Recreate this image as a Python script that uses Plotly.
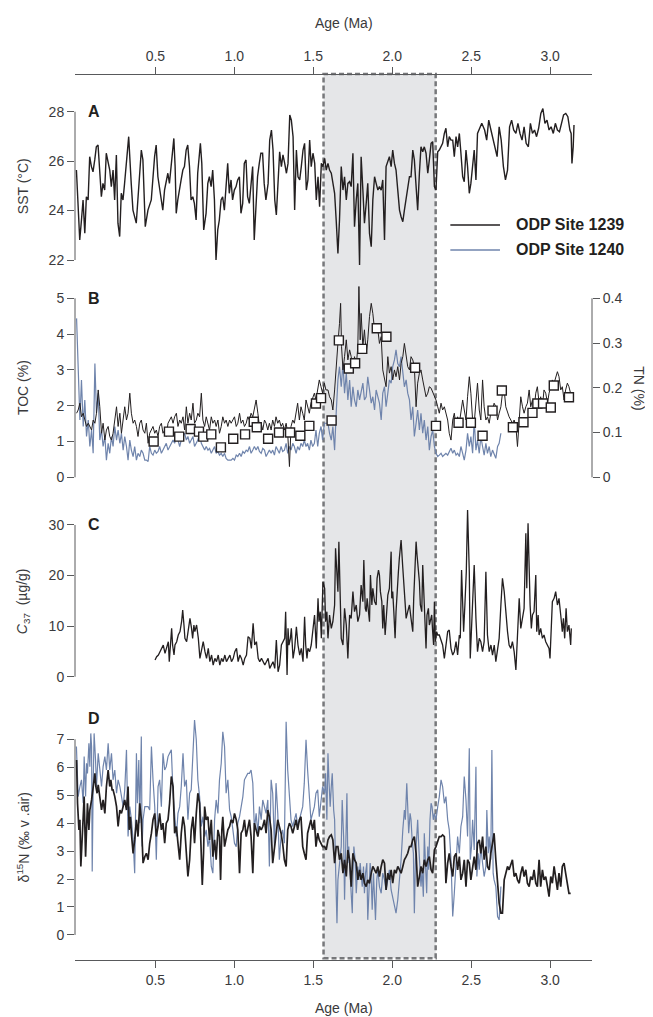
import plotly.graph_objects as go

# ---- shared age axis (Ma) ----
age_ticks = [0.5, 1.0, 1.5, 2.0, 2.5, 3.0]
shade_start, shade_end = 1.565, 2.275

# ---- A: SST (ODP 1239) ----
sst_age = [0.000, 0.021, 0.032, 0.042, 0.053, 0.063, 0.074, 0.084, 0.095, 0.105, 0.116, 0.126, 0.137, 0.147, 0.158,
           0.168, 0.179, 0.189, 0.200, 0.211, 0.221, 0.232, 0.242, 0.253, 0.263, 0.274, 0.284, 0.295, 0.305, 0.316,
           0.331, 0.347, 0.358, 0.379, 0.389, 0.400, 0.411, 0.421, 0.436, 0.453, 0.474, 0.495, 0.505, 0.516, 0.526,
           0.537, 0.547, 0.558, 0.568, 0.579, 0.589, 0.600, 0.617, 0.625, 0.632, 0.642, 0.653, 0.663, 0.674, 0.684,
           0.695, 0.705, 0.716, 0.726, 0.737, 0.747, 0.758, 0.768, 0.785, 0.794, 0.806, 0.821, 0.832, 0.842, 0.853,
           0.863, 0.874, 0.884, 0.895, 0.905, 0.916, 0.926, 0.937, 0.947, 0.958, 0.968, 0.979, 0.989, 1.000, 1.011,
           1.021, 1.032, 1.042, 1.053, 1.063, 1.074, 1.084, 1.095, 1.105, 1.116, 1.126, 1.137, 1.147, 1.158, 1.168,
           1.179, 1.189, 1.200, 1.214, 1.224, 1.235, 1.245, 1.256, 1.266, 1.277, 1.287, 1.298, 1.308, 1.319, 1.330,
           1.340, 1.351, 1.361, 1.372, 1.382, 1.393, 1.403, 1.414, 1.424, 1.435, 1.445, 1.456, 1.466, 1.477, 1.487,
           1.498, 1.509, 1.519, 1.530, 1.540, 1.551, 1.561, 1.572, 1.582, 1.593, 1.603, 1.614, 1.624, 1.635, 1.645,
           1.656, 1.666, 1.677, 1.688, 1.698, 1.709, 1.719, 1.730, 1.740, 1.751, 1.761, 1.772, 1.782, 1.793, 1.803,
           1.814, 1.824, 1.835, 1.845, 1.856, 1.867, 1.877, 1.888, 1.898, 1.909, 1.919, 1.930, 1.940, 1.951, 1.961,
           1.972, 1.982, 1.993, 2.003, 2.014, 2.024, 2.035, 2.046, 2.056, 2.067, 2.077, 2.088, 2.098, 2.109, 2.119,
           2.130, 2.140, 2.151, 2.161, 2.172, 2.182, 2.193, 2.203, 2.214, 2.225, 2.235, 2.246, 2.256, 2.267, 2.277,
           2.288, 2.298, 2.309, 2.319, 2.330, 2.340, 2.351, 2.361, 2.372, 2.383, 2.393, 2.404, 2.414, 2.425, 2.435,
           2.446, 2.456, 2.467, 2.477, 2.488, 2.498, 2.509, 2.519, 2.530, 2.540, 2.567, 2.585, 2.598, 2.611, 2.625,
           2.651, 2.664, 2.677, 2.690, 2.704, 2.717, 2.730, 2.743, 2.756, 2.769, 2.783, 2.796, 2.809, 2.822, 2.835,
           2.848, 2.862, 2.875, 2.888, 2.901, 2.914, 2.927, 2.941, 2.954, 2.967, 2.980, 2.993, 3.006, 3.020, 3.033,
           3.046, 3.059, 3.072, 3.085, 3.099, 3.112, 3.125, 3.133, 3.138, 3.146, 3.151]
sst = [25.64, 22.81, 23.62, 24.43, 23.08, 24.56, 24.43, 26.18, 25.78, 25.57, 26.05, 26.58, 26.65, 25.37, 24.56,
       25.10, 24.83, 26.32, 25.91, 25.64, 24.97, 25.64, 24.43, 26.25, 23.49, 22.95, 24.70, 24.43, 25.10, 25.78,
       26.99, 25.10, 24.02, 23.49, 24.43, 25.37, 26.45, 26.05, 23.35, 24.02, 24.43, 26.18, 26.65, 25.37, 24.97,
       24.43, 24.02, 24.83, 25.24, 25.51, 25.10, 25.78, 26.92, 25.78, 23.89, 24.43, 24.97, 25.24, 25.64, 25.78,
       26.45, 26.65, 25.78, 24.43, 24.56, 24.29, 23.62, 25.51, 26.72, 25.91, 23.22, 23.89, 25.10, 25.37, 24.97,
       25.64, 24.43, 22.00, 23.22, 23.62, 24.43, 24.56, 24.02, 25.10, 25.91, 24.70, 25.24, 24.43, 24.83, 24.97,
       25.24, 25.37, 23.89, 24.29, 25.91, 26.05, 24.56, 24.29, 25.10, 25.78, 22.81, 24.02, 25.37, 25.91, 26.32,
       26.32, 25.10, 24.43, 25.10, 26.85, 27.26, 26.45, 24.43, 23.82, 25.24, 26.38, 25.78, 26.25, 25.91, 25.51,
       25.91, 27.87, 27.66, 26.99, 24.02, 26.45, 25.37, 25.24, 25.78, 26.45, 26.72, 24.83, 25.24, 26.85, 25.78,
       26.32, 25.91, 24.43, 25.37, 24.16, 25.91, 25.78, 26.11, 25.64, 25.91, 25.64, 25.51, 25.10, 24.70, 23.62,
       22.27, 23.62, 25.78, 24.83, 25.37, 24.43, 25.10, 25.17, 24.97, 26.32, 23.35, 24.43, 25.10, 21.80, 26.18,
       24.83, 23.49, 24.29, 25.10, 23.08, 22.54, 24.43, 25.37, 25.10, 24.83, 24.97, 24.83, 25.24, 22.81, 25.78,
       26.05, 26.18, 25.78, 26.45, 25.91, 25.64, 24.83, 24.02, 23.75, 23.55, 24.02, 24.43, 24.97, 25.37, 25.37,
       26.45, 26.05, 24.70, 24.02, 25.51, 26.58, 26.38, 26.58, 26.32, 25.51, 26.05, 26.72, 26.79, 24.97, 24.83,
       26.38, 26.45, 26.58, 26.72, 27.12, 27.33, 26.58, 26.99, 26.85, 26.85, 26.18, 26.99, 26.58, 27.12, 26.32,
       25.37, 25.17, 26.45, 25.78, 24.70, 25.10, 25.78, 26.45, 25.24, 27.12, 27.53, 27.26, 26.85, 27.66, 27.26,
       26.58, 26.18, 27.39, 26.85, 25.78, 25.24, 25.64, 27.39, 27.66, 27.26, 27.12, 27.53, 27.12, 26.85, 27.39,
       26.72, 26.58, 27.53, 27.12, 27.26, 26.99, 27.33, 27.93, 28.13, 27.53, 27.66, 27.26, 27.39, 27.12, 27.53,
       27.26, 27.19, 27.53, 27.87, 27.93, 27.80, 27.26, 27.12, 25.91, 26.58, 27.46]

# ---- B: TOC (%) ODP 1239 / 1240, TN (%) squares ----
toc1239_age = [0.001, 0.011, 0.022, 0.032, 0.043, 0.053, 0.064, 0.075, 0.085, 0.096, 0.106, 0.117, 0.127, 0.138, 0.148,
               0.159, 0.169, 0.180, 0.190, 0.201, 0.211, 0.222, 0.232, 0.243, 0.254, 0.264, 0.275, 0.285, 0.296, 0.306,
               0.317, 0.327, 0.338, 0.348, 0.359, 0.369, 0.380, 0.390, 0.401, 0.411, 0.422, 0.433, 0.443, 0.454, 0.464,
               0.475, 0.485, 0.496, 0.506, 0.517, 0.527, 0.538, 0.548, 0.559, 0.569, 0.580, 0.590, 0.601, 0.612, 0.622,
               0.633, 0.643, 0.654, 0.664, 0.675, 0.685, 0.696, 0.706, 0.717, 0.727, 0.738, 0.748, 0.759, 0.769, 0.780,
               0.791, 0.801, 0.812, 0.822, 0.833, 0.843, 0.854, 0.864, 0.875, 0.885, 0.896, 0.906, 0.917, 0.927, 0.938,
               0.948, 0.959, 0.970, 0.980, 0.991, 1.001, 1.012, 1.022, 1.033, 1.043, 1.054, 1.064, 1.075, 1.085, 1.096,
               1.106, 1.117, 1.127, 1.138, 1.149, 1.159, 1.170, 1.180, 1.191, 1.201, 1.212, 1.222, 1.233, 1.243, 1.254,
               1.264, 1.275, 1.285, 1.296, 1.306, 1.317, 1.328, 1.338, 1.349, 1.359, 1.370, 1.380, 1.391, 1.401, 1.412,
               1.422, 1.433, 1.443, 1.454, 1.464, 1.475, 1.485, 1.496, 1.507, 1.517, 1.528, 1.538, 1.549, 1.559, 1.570,
               1.580, 1.593, 1.603, 1.614, 1.624, 1.635, 1.645, 1.656, 1.666, 1.673, 1.679, 1.688, 1.698, 1.709, 1.719,
               1.730, 1.740, 1.751, 1.761, 1.772, 1.782, 1.789, 1.797, 1.803, 1.814, 1.824, 1.835, 1.845, 1.856, 1.867,
               1.877, 1.888, 1.898, 1.909, 1.919, 1.930, 1.940, 1.951, 1.961, 1.972, 1.982, 1.993, 2.003, 2.014, 2.024,
               2.035, 2.046, 2.056, 2.067, 2.077, 2.088, 2.098, 2.109, 2.119, 2.130, 2.140, 2.151, 2.161, 2.172, 2.182,
               2.193, 2.203, 2.214, 2.225, 2.235, 2.246, 2.256, 2.267, 2.277, 2.288, 2.298, 2.309, 2.319, 2.330, 2.340,
               2.351, 2.361, 2.372, 2.383, 2.393, 2.404, 2.414, 2.425, 2.435, 2.446, 2.456, 2.467, 2.477, 2.488, 2.498,
               2.509, 2.519, 2.530, 2.540, 2.551, 2.561, 2.572, 2.582, 2.593, 2.603, 2.614, 2.624, 2.635, 2.645, 2.656,
               2.667, 2.677, 2.688, 2.698, 2.709, 2.719, 2.730, 2.740, 2.751, 2.761, 2.772, 2.783, 2.793, 2.804, 2.814,
               2.825, 2.835, 2.846, 2.856, 2.867, 2.877, 2.888, 2.898, 2.909, 2.919, 2.930, 2.940, 2.951, 2.961, 2.972,
               2.983, 2.993, 3.004, 3.014, 3.025, 3.035, 3.046, 3.056, 3.067, 3.077, 3.088, 3.098, 3.109, 3.119, 3.130,
               3.140]
toc1239 = [1.79, 1.88, 2.07, 1.69, 1.79, 1.60, 1.42, 1.51, 1.42, 1.32, 1.60, 1.51, 1.79, 2.44, 1.97,
           1.23, 1.51, 1.04, 1.32, 1.42, 1.14, 1.04, 1.23, 1.60, 1.97, 1.42, 1.79, 1.23, 1.69, 1.97,
           1.60, 1.79, 2.35, 1.79, 1.51, 1.60, 1.42, 1.14, 1.51, 1.60, 1.32, 1.23, 1.51, 0.95, 1.23,
           1.32, 1.42, 1.23, 1.32, 1.14, 1.42, 1.51, 1.23, 1.32, 1.14, 1.51, 1.60, 1.69, 1.51, 1.69,
           1.79, 1.42, 1.60, 1.51, 1.69, 1.32, 1.97, 1.51, 1.79, 1.60, 2.07, 1.51, 1.60, 1.79, 1.69,
           2.35, 1.60, 1.42, 1.69, 1.51, 1.32, 1.69, 1.51, 1.60, 1.42, 1.60, 1.23, 1.42, 1.69, 1.51,
           1.60, 1.42, 1.60, 1.51, 1.60, 1.69, 1.42, 1.51, 1.79, 1.51, 1.60, 1.42, 1.51, 1.69, 1.60,
           1.79, 1.69, 1.88, 2.16, 1.79, 1.42, 1.51, 1.32, 1.60, 1.51, 1.32, 1.51, 1.32, 1.60, 1.42,
           1.69, 1.51, 1.60, 1.42, 1.51, 1.32, 1.51, 1.23, 0.30, 1.42, 1.60, 1.51, 1.79, 2.07, 1.60,
           1.97, 1.79, 1.60, 2.16, 1.97, 1.79, 2.07, 2.25, 2.35, 2.16, 2.44, 2.72, 2.53, 2.35, 2.63,
           2.44, 2.44, 2.25, 2.16, 1.88, 2.44, 3.18, 3.74, 4.30, 4.86, 3.65, 3.00, 3.37, 3.84, 3.28,
           3.56, 3.37, 3.00, 3.37, 3.09, 3.65, 5.33, 3.84, 4.58, 3.65, 4.12, 3.46, 3.84, 4.49, 4.86,
           4.58, 4.12, 4.30, 4.12, 3.74, 3.93, 3.00, 2.72, 2.53, 3.37, 2.91, 3.09, 2.72, 3.00, 2.81,
           3.09, 2.72, 3.18, 3.37, 3.74, 3.37, 3.09, 3.00, 3.37, 3.28, 3.09, 1.97, 2.63, 2.91, 3.00,
           2.72, 2.44, 2.25, 2.35, 2.53, 2.49, 2.39, 2.25, 2.16, 1.97, 1.79, 2.07, 1.88, 1.97, 1.79,
           1.60, 1.23, 1.04, 1.60, 1.79, 1.42, 1.69, 1.51, 1.79, 2.16, 1.88, 1.60, 2.25, 2.81, 2.35,
           1.60, 1.51, 2.16, 2.63, 1.88, 1.60, 2.72, 1.97, 1.60, 1.69, 1.51, 1.79, 1.88, 2.07, 1.97,
           1.60, 1.79, 1.97, 2.35, 2.44, 1.97, 1.79, 1.69, 1.60, 1.51, 1.60, 1.42, 0.86, 1.69, 2.25,
           1.97, 1.79, 1.97, 2.07, 2.44, 1.97, 2.16, 1.88, 2.35, 2.53, 2.07, 2.25, 1.97, 2.44, 2.35,
           2.07, 2.35, 2.53, 2.72, 2.63, 2.81, 2.95, 2.81, 2.44, 2.53, 2.16, 2.44, 2.63, 2.53, 2.35,
           2.16]

toc1240_age = [0.001, 0.011, 0.022, 0.032, 0.043, 0.053, 0.064, 0.075, 0.085, 0.096, 0.106, 0.117, 0.127, 0.138, 0.148,
               0.159, 0.169, 0.180, 0.190, 0.201, 0.211, 0.222, 0.232, 0.243, 0.254, 0.264, 0.275, 0.285, 0.296, 0.306,
               0.317, 0.327, 0.338, 0.348, 0.359, 0.369, 0.380, 0.390, 0.401, 0.411, 0.422, 0.433, 0.443, 0.454, 0.464,
               0.475, 0.485, 0.496, 0.506, 0.517, 0.527, 0.538, 0.548, 0.559, 0.569, 0.580, 0.590, 0.601, 0.612, 0.622,
               0.633, 0.643, 0.654, 0.664, 0.675, 0.685, 0.696, 0.706, 0.717, 0.727, 0.738, 0.748, 0.759, 0.769, 0.780,
               0.791, 0.801, 0.812, 0.822, 0.833, 0.843, 0.854, 0.864, 0.875, 0.885, 0.896, 0.906, 0.917, 0.927, 0.938,
               0.948, 0.959, 0.970, 0.980, 0.991, 1.001, 1.012, 1.022, 1.033, 1.043, 1.054, 1.064, 1.075, 1.085, 1.096,
               1.106, 1.117, 1.127, 1.138, 1.149, 1.159, 1.170, 1.180, 1.191, 1.201, 1.212, 1.222, 1.233, 1.243, 1.254,
               1.264, 1.275, 1.285, 1.296, 1.306, 1.317, 1.328, 1.338, 1.349, 1.359, 1.370, 1.380, 1.391, 1.401, 1.412,
               1.422, 1.433, 1.443, 1.454, 1.464, 1.475, 1.485, 1.496, 1.507, 1.517, 1.528, 1.538, 1.549, 1.559, 1.570,
               1.593, 1.603, 1.614, 1.624, 1.635, 1.645, 1.656, 1.666, 1.677, 1.688, 1.698, 1.709, 1.719, 1.730, 1.740,
               1.751, 1.761, 1.772, 1.782, 1.793, 1.803, 1.814, 1.824, 1.835, 1.845, 1.856, 1.867, 1.877, 1.888, 1.898,
               1.909, 1.919, 1.930, 1.940, 1.951, 1.961, 1.972, 1.982, 1.993, 2.003, 2.014, 2.024, 2.035, 2.046, 2.056,
               2.067, 2.077, 2.088, 2.098, 2.109, 2.119, 2.130, 2.140, 2.151, 2.161, 2.172, 2.182, 2.193, 2.203, 2.214,
               2.225, 2.235, 2.246, 2.256, 2.267, 2.277, 2.288, 2.298, 2.309, 2.319, 2.330, 2.340, 2.351, 2.361, 2.372,
               2.383, 2.393, 2.404, 2.414, 2.425, 2.435, 2.446, 2.456, 2.467, 2.477, 2.488, 2.498, 2.509, 2.519, 2.530,
               2.540, 2.551, 2.561, 2.572, 2.582, 2.593, 2.603, 2.614, 2.624, 2.635, 2.645, 2.656, 2.667, 2.677, 2.688]
toc1240 = [4.44, 3.18, 1.60, 2.72, 1.42, 2.16, 1.14, 1.60, 0.86, 1.32, 0.67, 3.18, 1.79, 2.35, 1.04,
           1.32, 0.86, 1.14, 0.48, 0.95, 0.67, 1.14, 0.86, 1.42, 1.04, 1.32, 0.95, 1.23, 0.76, 1.14,
           0.86, 0.48, 1.04, 0.76, 0.58, 0.86, 0.48, 0.67, 0.58, 0.76, 0.67, 0.48, 0.48, 0.44, 0.86,
           0.67, 0.62, 0.76, 0.67, 0.72, 0.86, 0.67, 0.76, 0.86, 0.95, 0.76, 0.86, 0.95, 1.04, 0.95,
           1.14, 1.04, 0.86, 1.04, 1.14, 1.23, 1.04, 1.14, 0.95, 1.04, 1.14, 0.86, 0.95, 1.04, 1.23,
           0.95, 0.86, 0.76, 0.86, 0.76, 0.81, 0.67, 0.76, 0.86, 0.67, 0.72, 0.62, 0.67, 0.58, 0.67,
           0.53, 0.48, 0.48, 0.48, 0.53, 0.48, 0.62, 0.58, 0.67, 0.58, 0.72, 0.67, 0.76, 0.72, 0.86,
           0.67, 0.76, 0.86, 0.76, 0.86, 0.72, 0.67, 0.81, 0.76, 0.58, 0.67, 0.76, 0.67, 0.76, 0.62,
           0.86, 0.76, 0.67, 0.86, 0.72, 0.76, 0.95, 0.67, 0.86, 0.76, 0.95, 0.86, 0.67, 0.86, 0.76,
           0.95, 0.86, 1.04, 0.86, 0.95, 0.76, 1.04, 0.86, 0.95, 1.32, 0.86, 1.23, 1.42, 1.04, 1.51,
           1.51, 1.23, 1.04, 1.42, 0.76, 1.79, 2.72, 3.09, 2.53, 3.18, 2.35, 2.91, 2.16, 2.72, 1.97,
           2.53, 2.16, 1.97, 2.44, 2.16, 2.35, 2.63, 2.16, 2.25, 2.81, 2.35, 2.07, 2.25, 1.88, 2.44,
           2.25, 2.07, 1.60, 2.35, 2.53, 1.97, 2.35, 2.72, 2.63, 3.09, 3.28, 3.56, 3.18, 3.09, 3.37,
           2.91, 2.53, 2.72, 2.35, 2.16, 1.60, 1.97, 1.14, 1.51, 1.88, 1.32, 1.79, 1.23, 1.60, 1.04,
           1.42, 0.76, 1.14, 1.32, 0.86, 0.67, 0.58, 0.62, 0.67, 0.58, 0.62, 0.67, 0.62, 0.72, 0.81,
           0.67, 0.76, 0.62, 0.67, 0.58, 0.86, 0.67, 0.48, 0.76, 1.23, 0.86, 1.14, 0.67, 1.60, 0.76,
           1.04, 0.67, 1.14, 0.86, 0.62, 0.95, 0.67, 0.86, 0.58, 0.76, 0.67, 0.53, 0.86, 0.95, 1.23]

tn_age = [0.489, 0.586, 0.651, 0.723, 0.776, 0.803, 0.854, 0.915, 0.993, 1.068, 1.123, 1.142, 1.214, 1.283,
          1.353, 1.418, 1.475, 1.517, 1.549, 1.616, 1.662, 1.725, 1.765, 1.810, 1.902, 1.963, 2.145, 2.277,
          2.420, 2.498, 2.572, 2.635, 2.694, 2.764, 2.831, 2.888, 2.919, 2.955, 3.004, 3.023, 3.119]
tn = [0.080, 0.102, 0.091, 0.108, 0.102, 0.091, 0.096, 0.067, 0.086, 0.096, 0.124, 0.112, 0.086, 0.100,
      0.100, 0.093, 0.115, 0.165, 0.177, 0.127, 0.306, 0.243, 0.255, 0.287, 0.333, 0.314, 0.245, 0.115,
      0.122, 0.122, 0.093, 0.149, 0.194, 0.112, 0.123, 0.144, 0.165, 0.165, 0.156, 0.205, 0.179]

# ---- C: C37 alkenones (ug/g) ----
c37_age = [0.498, 0.508, 0.519, 0.529, 0.540, 0.550, 0.561, 0.571, 0.582, 0.588, 0.597, 0.603, 0.609, 0.618, 0.624,
           0.635, 0.645, 0.656, 0.666, 0.673, 0.681, 0.687, 0.698, 0.708, 0.719, 0.729, 0.736, 0.744, 0.750, 0.761,
           0.772, 0.782, 0.793, 0.803, 0.814, 0.824, 0.835, 0.845, 0.856, 0.866, 0.877, 0.887, 0.898, 0.908, 0.919,
           0.929, 0.940, 0.950, 0.961, 0.972, 0.982, 0.993, 1.003, 1.014, 1.024, 1.035, 1.045, 1.056, 1.066, 1.077,
           1.087, 1.098, 1.108, 1.119, 1.129, 1.140, 1.151, 1.161, 1.172, 1.182, 1.193, 1.203, 1.214, 1.224, 1.235,
           1.245, 1.256, 1.266, 1.277, 1.287, 1.298, 1.308, 1.319, 1.325, 1.334, 1.340, 1.346, 1.355, 1.361, 1.372,
           1.382, 1.393, 1.403, 1.414, 1.424, 1.435, 1.445, 1.452, 1.460, 1.466, 1.477, 1.487, 1.498, 1.508, 1.519,
           1.530, 1.536, 1.544, 1.551, 1.557, 1.561, 1.572, 1.578, 1.586, 1.593, 1.603, 1.614, 1.624, 1.635, 1.641,
           1.650, 1.656, 1.662, 1.666, 1.677, 1.688, 1.698, 1.709, 1.719, 1.730, 1.740, 1.751, 1.761, 1.772, 1.782,
           1.793, 1.803, 1.814, 1.820, 1.829, 1.835, 1.841, 1.850, 1.856, 1.862, 1.871, 1.877, 1.888, 1.898, 1.904,
           1.913, 1.919, 1.925, 1.934, 1.940, 1.946, 1.955, 1.961, 1.972, 1.982, 1.993, 1.997, 2.003, 2.010, 2.018,
           2.024, 2.031, 2.039, 2.045, 2.056, 2.067, 2.077, 2.088, 2.098, 2.109, 2.119, 2.130, 2.136, 2.144, 2.151,
           2.157, 2.166, 2.172, 2.178, 2.187, 2.193, 2.199, 2.208, 2.214, 2.220, 2.229, 2.235, 2.241, 2.250, 2.256,
           2.262, 2.267, 2.273, 2.281, 2.288, 2.298, 2.309, 2.319, 2.330, 2.340, 2.351, 2.361, 2.372, 2.383, 2.393,
           2.404, 2.414, 2.425, 2.431, 2.439, 2.446, 2.452, 2.460, 2.469, 2.477, 2.488, 2.494, 2.502, 2.511, 2.519,
           2.530, 2.540, 2.551, 2.561, 2.572, 2.582, 2.593, 2.603, 2.614, 2.625, 2.635, 2.646, 2.656, 2.667, 2.677,
           2.688, 2.698, 2.709, 2.719, 2.730, 2.740, 2.751, 2.761, 2.772, 2.783, 2.793, 2.804, 2.814, 2.825, 2.835,
           2.846, 2.852, 2.860, 2.867, 2.873, 2.881, 2.888, 2.898, 2.909, 2.915, 2.924, 2.930, 2.940, 2.951, 2.961,
           2.972, 2.983, 2.993, 2.999, 3.008, 3.014, 3.025, 3.035, 3.046, 3.056, 3.067, 3.077, 3.084, 3.092, 3.101,
           3.109, 3.119, 3.130, 3.134]
c37 = [3.30, 3.96, 4.29, 4.95, 5.94, 6.27, 4.62, 5.61, 6.93, 2.97, 8.25, 9.56, 6.27, 4.29, 6.27,
       6.93, 8.25, 8.91, 10.88, 13.19, 10.22, 7.59, 6.93, 8.91, 11.54, 9.56, 7.59, 10.22, 8.91, 10.22,
       7.59, 3.63, 5.61, 6.93, 4.95, 3.63, 5.61, 2.97, 4.29, 2.31, 3.63, 2.97, 4.29, 2.31, 3.63,
       2.97, 4.29, 2.97, 3.63, 4.29, 2.97, 3.63, 4.95, 5.61, 2.97, 4.29, 3.63, 2.31, 3.63, 4.29,
       7.92, 7.59, 5.61, 10.55, 6.27, 6.93, 3.63, 2.97, 3.63, 2.97, 2.31, 2.97, 3.63, 1.65, 2.31,
       2.97, 1.65, 7.26, 0.99, 2.31, 6.27, 6.93, 7.59, 12.86, 0.34, 9.56, 6.27, 7.59, 9.56, 3.63,
       5.61, 9.89, 6.27, 4.29, 5.61, 2.97, 11.87, 6.27, 3.63, 5.61, 4.95, 6.27, 10.22, 12.20, 5.61,
       15.50, 10.88, 12.86, 7.59, 14.18, 18.79, 17.48, 10.88, 12.86, 7.59, 12.20, 9.56, 10.88, 14.18, 25.39,
       20.77, 16.82, 26.70, 20.77, 7.59, 6.27, 13.52, 10.22, 3.63, 12.20, 11.54, 16.82, 12.86, 14.18, 10.88,
       12.20, 18.13, 14.84, 23.08, 13.52, 12.86, 15.50, 11.54, 10.88, 20.11, 14.18, 17.48, 14.84, 14.18, 19.45,
       21.10, 20.11, 16.82, 14.84, 9.56, 14.18, 8.25, 10.88, 16.16, 17.48, 24.73, 15.50, 16.82, 12.86, 7.59,
       12.86, 17.48, 20.77, 23.41, 27.03, 21.43, 15.50, 11.54, 12.86, 14.18, 11.54, 8.91, 15.50, 23.41, 26.70,
       24.07, 21.43, 18.79, 14.18, 12.86, 22.09, 17.48, 11.54, 5.61, 12.20, 13.52, 10.22, 10.88, 12.20, 8.91,
       6.27, 14.84, 6.93, 8.91, 8.25, 8.25, 6.93, 6.27, 3.63, 6.27, 8.91, 9.24, 5.61, 4.29, 4.95,
       6.93, 4.29, 8.25, 7.59, 21.10, 12.20, 8.91, 14.18, 20.77, 32.97, 20.77, 3.63, 8.91, 17.48, 22.09,
       11.54, 4.95, 7.59, 6.93, 4.95, 6.93, 20.77, 8.25, 4.95, 6.27, 4.29, 6.27, 2.97, 4.95, 7.59,
       14.18, 19.45, 16.82, 12.20, 8.91, 6.27, 5.61, 6.93, 4.95, 1.32, 8.91, 15.50, 9.56, 11.54, 13.52,
       28.35, 17.48, 30.33, 20.77, 14.18, 9.56, 12.20, 12.86, 20.11, 8.91, 12.20, 8.25, 9.56, 7.59, 8.25,
       6.93, 6.27, 5.61, 3.63, 9.56, 14.84, 15.50, 16.82, 14.18, 15.50, 12.20, 8.91, 11.54, 7.59, 13.52,
       8.91, 10.22, 6.27, 9.56]

# ---- D: d15N (permil vs air) ODP 1239 / 1240 ----
d15n1239_age = [0.001, 0.007, 0.016, 0.022, 0.028, 0.037, 0.043, 0.049, 0.058, 0.064, 0.070, 0.079, 0.085, 0.096, 0.102,
                0.108, 0.117, 0.123, 0.131, 0.138, 0.148, 0.159, 0.169, 0.180, 0.190, 0.201, 0.211, 0.218, 0.226, 0.232,
                0.243, 0.254, 0.264, 0.275, 0.285, 0.296, 0.306, 0.317, 0.327, 0.334, 0.342, 0.348, 0.359, 0.369, 0.380,
                0.390, 0.401, 0.411, 0.422, 0.433, 0.443, 0.454, 0.464, 0.475, 0.485, 0.496, 0.506, 0.517, 0.527, 0.538,
                0.548, 0.559, 0.569, 0.580, 0.590, 0.601, 0.612, 0.622, 0.633, 0.643, 0.654, 0.664, 0.675, 0.685, 0.696,
                0.706, 0.717, 0.727, 0.738, 0.748, 0.759, 0.769, 0.780, 0.791, 0.797, 0.805, 0.812, 0.822, 0.833, 0.843,
                0.854, 0.864, 0.875, 0.885, 0.896, 0.906, 0.913, 0.921, 0.927, 0.938, 0.948, 0.959, 0.970, 0.980, 0.991,
                1.001, 1.012, 1.022, 1.033, 1.043, 1.054, 1.064, 1.075, 1.085, 1.096, 1.106, 1.117, 1.127, 1.138, 1.149,
                1.159, 1.170, 1.180, 1.191, 1.201, 1.212, 1.222, 1.233, 1.243, 1.254, 1.264, 1.275, 1.285, 1.296, 1.306,
                1.317, 1.328, 1.338, 1.349, 1.359, 1.370, 1.380, 1.391, 1.401, 1.412, 1.422, 1.433, 1.443, 1.454, 1.464,
                1.475, 1.485, 1.496, 1.507, 1.517, 1.528, 1.538, 1.549, 1.559, 1.572, 1.582, 1.593, 1.603, 1.614, 1.624,
                1.635, 1.645, 1.656, 1.666, 1.677, 1.688, 1.698, 1.709, 1.719, 1.730, 1.740, 1.751, 1.761, 1.772, 1.782,
                1.793, 1.803, 1.814, 1.824, 1.835, 1.845, 1.856, 1.867, 1.877, 1.888, 1.898, 1.909, 1.919, 1.930, 1.940,
                1.951, 1.961, 1.972, 1.982, 1.993, 2.003, 2.014, 2.024, 2.035, 2.046, 2.056, 2.067, 2.077, 2.088, 2.098,
                2.109, 2.119, 2.130, 2.140, 2.151, 2.161, 2.172, 2.182, 2.193, 2.203, 2.214, 2.225, 2.235, 2.246, 2.256,
                2.267, 2.277, 2.288, 2.298, 2.309, 2.319, 2.330, 2.340, 2.351, 2.361, 2.372, 2.383, 2.393, 2.404, 2.414,
                2.425, 2.435, 2.446, 2.456, 2.467, 2.477, 2.488, 2.498, 2.509, 2.519, 2.530, 2.540, 2.551, 2.561, 2.572,
                2.582, 2.593, 2.603, 2.614, 2.624, 2.635, 2.645, 2.656, 2.667, 2.677, 2.688, 2.698, 2.709, 2.719, 2.730,
                2.740, 2.751, 2.761, 2.772, 2.783, 2.793, 2.804, 2.814, 2.825, 2.835, 2.846, 2.856, 2.867, 2.877, 2.888,
                2.898, 2.909, 2.919, 2.930, 2.940, 2.951, 2.961, 2.972, 2.983, 2.993, 3.004, 3.014, 3.025, 3.035, 3.046,
                3.056, 3.067, 3.077, 3.088, 3.098, 3.109, 3.119, 3.130]
d15n1239 = [6.26, 4.71, 3.76, 4.12, 2.45, 3.76, 4.59, 4.95, 2.80, 4.12, 4.71, 3.76, 4.47, 4.83, 5.07,
            5.43, 5.78, 5.31, 5.07, 5.37, 4.83, 4.47, 4.83, 4.35, 5.31, 5.90, 5.31, 5.55, 5.19, 5.19,
            4.95, 4.59, 3.88, 4.47, 4.35, 4.59, 4.83, 4.47, 5.31, 3.76, 4.23, 3.64, 2.92, 3.40, 4.12,
            3.52, 4.71, 4.12, 2.57, 2.80, 2.92, 2.69, 3.28, 3.64, 4.12, 4.35, 3.52, 3.88, 4.35, 3.76,
            4.00, 3.28, 4.00, 4.12, 4.71, 5.67, 5.31, 3.64, 3.88, 3.28, 2.69, 3.64, 4.23, 3.88, 2.92,
            2.09, 2.69, 3.76, 4.23, 3.28, 4.35, 5.07, 4.71, 2.92, 1.79, 2.92, 4.59, 4.12, 4.23, 3.40,
            4.12, 2.80, 3.40, 2.69, 3.76, 3.52, 1.97, 3.76, 4.23, 3.16, 3.52, 3.76, 3.88, 4.12, 4.00,
            4.35, 4.12, 3.76, 2.21, 3.64, 3.76, 4.12, 3.52, 3.88, 4.12, 3.52, 2.21, 4.00, 3.76, 3.52,
            3.88, 3.76, 3.88, 4.12, 3.64, 4.47, 4.23, 3.76, 2.57, 3.16, 3.76, 4.12, 3.88, 3.64, 3.28,
            2.69, 2.45, 3.76, 4.00, 3.88, 3.64, 3.88, 4.12, 3.76, 4.12, 4.23, 3.16, 2.92, 2.69, 3.64,
            3.88, 4.12, 3.76, 4.12, 3.16, 3.64, 3.40, 3.28, 3.16, 3.16, 3.04, 3.40, 3.52, 3.58, 3.40,
            2.57, 3.16, 3.16, 2.69, 2.92, 2.21, 2.69, 2.09, 3.04, 2.69, 1.73, 2.92, 2.69, 2.57, 1.97,
            2.33, 1.97, 2.21, 1.85, 1.73, 1.97, 1.85, 2.21, 2.45, 2.33, 2.21, 2.45, 2.09, 2.45, 2.69,
            2.57, 1.61, 2.21, 1.97, 2.33, 1.85, 2.33, 2.21, 2.45, 2.33, 2.21, 2.45, 2.69, 2.80, 2.92,
            3.16, 3.16, 3.40, 3.52, 2.92, 1.73, 2.09, 2.45, 2.21, 2.69, 2.45, 2.69, 2.80, 2.33, 2.21,
            3.04, 3.16, 3.40, 3.52, 3.52, 3.58, 3.52, 1.85, 2.57, 2.92, 2.45, 2.09, 2.80, 2.92, 2.33,
            2.80, 1.97, 2.21, 2.69, 1.73, 2.69, 2.57, 1.97, 2.45, 2.80, 2.33, 3.28, 3.40, 2.92, 3.52,
            2.69, 3.16, 2.45, 2.33, 2.92, 3.28, 3.64, 2.69, 1.73, 1.14, 0.78, 0.78, 1.97, 2.21, 2.45,
            2.33, 2.57, 2.69, 2.09, 2.21, 1.97, 1.85, 2.21, 2.45, 2.09, 2.33, 1.85, 1.73, 2.09, 1.97,
            2.33, 1.85, 1.73, 2.69, 1.73, 2.33, 1.97, 2.09, 1.73, 1.37, 2.09, 1.85, 2.45, 1.97, 1.61,
            2.21, 1.73, 2.45, 2.57, 2.21, 1.73, 1.49, 1.49]

d15n1240_age = [0.000, 0.005, 0.011, 0.022, 0.032, 0.043, 0.049, 0.058, 0.064, 0.070, 0.079, 0.085, 0.091, 0.096, 0.100,
                0.106, 0.112, 0.121, 0.127, 0.138, 0.148, 0.159, 0.169, 0.180, 0.190, 0.201, 0.211, 0.222, 0.232, 0.243,
                0.254, 0.264, 0.275, 0.285, 0.296, 0.306, 0.317, 0.327, 0.338, 0.348, 0.359, 0.369, 0.380, 0.386, 0.395,
                0.401, 0.407, 0.411, 0.416, 0.422, 0.433, 0.443, 0.454, 0.464, 0.475, 0.485, 0.496, 0.506, 0.517, 0.527,
                0.538, 0.548, 0.559, 0.569, 0.580, 0.590, 0.601, 0.612, 0.622, 0.633, 0.643, 0.654, 0.664, 0.675, 0.685,
                0.696, 0.706, 0.717, 0.727, 0.738, 0.748, 0.759, 0.769, 0.780, 0.791, 0.801, 0.812, 0.822, 0.833, 0.843,
                0.854, 0.864, 0.875, 0.885, 0.896, 0.906, 0.917, 0.927, 0.938, 0.948, 0.959, 0.970, 0.980, 0.991, 1.001,
                1.012, 1.022, 1.033, 1.043, 1.054, 1.064, 1.075, 1.085, 1.096, 1.106, 1.117, 1.127, 1.138, 1.149, 1.159,
                1.170, 1.180, 1.191, 1.201, 1.212, 1.222, 1.233, 1.243, 1.254, 1.264, 1.275, 1.285, 1.296, 1.306, 1.317,
                1.328, 1.338, 1.349, 1.359, 1.370, 1.380, 1.391, 1.401, 1.412, 1.422, 1.433, 1.443, 1.454, 1.464, 1.475,
                1.485, 1.496, 1.507, 1.517, 1.528, 1.538, 1.549, 1.559, 1.572, 1.578, 1.586, 1.593, 1.599, 1.607, 1.614,
                1.620, 1.629, 1.635, 1.641, 1.650, 1.656, 1.666, 1.677, 1.683, 1.692, 1.698, 1.704, 1.713, 1.719, 1.725,
                1.734, 1.740, 1.747, 1.751, 1.757, 1.765, 1.772, 1.782, 1.789, 1.797, 1.803, 1.810, 1.818, 1.824, 1.831,
                1.839, 1.845, 1.852, 1.860, 1.867, 1.873, 1.881, 1.888, 1.894, 1.902, 1.909, 1.919, 1.930, 1.940, 1.951,
                1.961, 1.972, 1.982, 1.993, 2.003, 2.014, 2.024, 2.035, 2.046, 2.056, 2.067, 2.077, 2.083, 2.092, 2.098,
                2.104, 2.113, 2.119, 2.126, 2.134, 2.140, 2.147, 2.155, 2.161, 2.168, 2.176, 2.182, 2.189, 2.197, 2.203,
                2.210, 2.218, 2.225, 2.231, 2.239, 2.246, 2.252, 2.260, 2.267, 2.277, 2.288, 2.298, 2.309, 2.319, 2.330,
                2.340, 2.351, 2.361, 2.372, 2.383, 2.393, 2.404, 2.414, 2.425, 2.435, 2.446, 2.456, 2.467, 2.477, 2.488,
                2.494, 2.502, 2.509, 2.519, 2.530, 2.536, 2.544, 2.551, 2.561, 2.572, 2.582, 2.593, 2.599, 2.608, 2.614,
                2.624, 2.631, 2.639, 2.645, 2.656, 2.667, 2.677, 2.688]
d15n1240 = [6.74, 6.02, 4.95, 5.31, 5.55, 4.71, 6.38, 4.95, 6.14, 5.78, 6.86, 6.02, 7.21, 6.74, 2.27,
            5.31, 7.21, 6.26, 5.31, 6.50, 5.90, 5.31, 6.02, 6.38, 5.90, 6.86, 5.90, 6.50, 5.55, 5.90,
            5.07, 5.55, 5.31, 4.95, 4.59, 5.19, 6.62, 3.52, 4.59, 4.12, 3.40, 2.21, 6.50, 4.71, 6.26,
            4.00, 5.55, 7.10, 3.16, 4.12, 4.59, 4.59, 4.59, 4.47, 6.74, 5.55, 4.59, 2.69, 5.31, 5.55,
            4.59, 6.50, 5.90, 6.02, 6.38, 6.50, 6.62, 5.07, 4.12, 3.52, 4.35, 4.59, 5.31, 6.50, 5.31,
            5.55, 4.12, 5.07, 5.19, 6.26, 7.69, 6.98, 5.55, 4.95, 3.88, 4.23, 3.52, 3.76, 3.16, 3.52,
            2.45, 2.21, 4.12, 4.83, 4.35, 5.55, 6.14, 7.27, 6.74, 5.07, 5.55, 4.47, 4.23, 3.76, 3.28,
            3.16, 4.00, 4.23, 4.59, 4.95, 5.55, 5.67, 5.78, 5.78, 5.90, 5.43, 3.76, 4.35, 3.64, 4.59,
            4.12, 4.83, 4.59, 4.35, 4.83, 2.45, 5.55, 5.07, 3.16, 5.43, 4.35, 2.69, 3.52, 3.76, 3.28,
            7.63, 5.90, 4.83, 4.12, 3.88, 4.12, 4.35, 3.88, 4.12, 4.35, 4.59, 5.43, 6.98, 5.90, 4.95,
            4.12, 4.35, 4.59, 5.07, 5.19, 4.23, 4.83, 5.31, 5.07, 5.78, 4.12, 6.50, 5.55, 4.59, 5.31,
            5.78, 4.47, 4.12, 2.45, 0.42, 1.97, 2.69, 3.16, 4.83, 3.52, 1.26, 3.04, 5.07, 2.57, 3.16,
            2.09, 1.61, 0.78, 2.09, 3.16, 2.69, 1.49, 2.45, 1.97, 2.57, 2.09, 1.73, 2.45, 1.49, 2.21,
            2.57, 0.54, 1.73, 2.57, 1.97, 0.90, 2.21, 1.26, 0.54, 1.97, 2.33, 1.73, 1.49, 2.21, 1.97,
            1.61, 2.09, 2.33, 1.61, 1.37, 1.02, 0.78, 1.26, 1.97, 2.69, 3.76, 4.47, 4.12, 5.43, 4.59,
            3.64, 4.35, 4.12, 3.40, 2.92, 0.78, 2.69, 3.52, 4.12, 3.16, 2.45, 1.73, 2.33, 1.37, 3.64,
            2.69, 1.49, 3.16, 2.33, 4.12, 4.71, 4.59, 4.12, 4.35, 4.12, 4.59, 4.95, 5.55, 5.31, 4.71,
            4.95, 4.12, 3.76, 2.69, 0.66, 1.49, 2.45, 3.52, 2.92, 3.88, 4.23, 5.67, 4.83, 3.52, 6.68,
            2.69, 3.16, 4.12, 3.04, 6.02, 2.09, 2.92, 2.33, 3.16, 2.57, 2.09, 2.45, 4.47, 2.92, 3.52,
            2.69, 6.62, 2.21, 1.97, 1.73, 0.66, 0.54, 1.73]

# ---- styling ----
black = "#231f20"
blue = "#6f84ac"
axis_col = "#58595b"
tick_font = dict(family="Liberation Sans, Arial", size=14, color="#3a3a3c")
title_font = dict(family="Liberation Sans, Arial", size=14, color="#3a3a3c")
bold_font = dict(family="Liberation Sans, Arial", size=16, color=black)
x_range = [-0.009, 3.265]

fig = go.Figure()

fig.add_trace(go.Scatter(x=sst_age, y=sst, mode="lines", line=dict(color=black, width=1.4),
                         xaxis="x", yaxis="y", hoverinfo="skip"))
fig.add_trace(go.Scatter(x=toc1240_age, y=toc1240, mode="lines", line=dict(color=blue, width=1.2),
                         xaxis="x", yaxis="y2", hoverinfo="skip"))
fig.add_trace(go.Scatter(x=toc1239_age, y=toc1239, mode="lines", line=dict(color=black, width=1.0),
                         xaxis="x", yaxis="y2", hoverinfo="skip"))
fig.add_trace(go.Scatter(x=tn_age, y=tn, mode="markers",
                         marker=dict(symbol="square", size=9, color="white", line=dict(color=black, width=1.4)),
                         xaxis="x", yaxis="y3", hoverinfo="skip"))
fig.add_trace(go.Scatter(x=c37_age, y=c37, mode="lines", line=dict(color=black, width=1.3),
                         xaxis="x", yaxis="y4", hoverinfo="skip"))
fig.add_trace(go.Scatter(x=d15n1240_age, y=d15n1240, mode="lines", line=dict(color=blue, width=1.2),
                         xaxis="x", yaxis="y5", hoverinfo="skip"))
fig.add_trace(go.Scatter(x=d15n1239_age, y=d15n1239, mode="lines", line=dict(color=black, width=1.7),
                         xaxis="x", yaxis="y5", hoverinfo="skip"))
# invisible trace so the top age axis is drawn
fig.add_trace(go.Scatter(x=[None], y=[None], xaxis="x2", yaxis="y", hoverinfo="skip"))

fig.update_traces(showlegend=False)

# shaded interval
fig.add_shape(type="rect", xref="x", yref="paper", x0=shade_start, x1=shade_end, y0=0.002, y1=1,
              fillcolor="#e5e6e8", line=dict(color="#77787b", width=2.5, dash="5px,3px"), layer="below")

x_common = dict(range=x_range, showgrid=False, zeroline=False, showline=True, linecolor=axis_col, linewidth=1,
                ticks="outside", ticklen=7, tickcolor=axis_col, tickvals=age_ticks,
                ticktext=[f"{v:.1f}" for v in age_ticks], tickfont=tick_font)
y_common = dict(showgrid=False, zeroline=False, showline=False, ticks="outside", ticklen=7,
                tickcolor=axis_col, tickfont=tick_font, anchor="x")

# the page body adds an 8px offset, so the figure is 8px smaller than the window
fig.update_layout(
    width=645, height=1009,
    margin=dict(l=67, r=61, t=66, b=57),
    plot_bgcolor="white", paper_bgcolor="white",
    showlegend=False,
    xaxis=dict(domain=[0, 1], anchor="free", position=0, **x_common),
    xaxis2=dict(overlaying="x", side="top", anchor="free", position=1, **x_common),
    yaxis=dict(domain=[0.7765, 0.9763], range=[21.515, 28.676], tickvals=[22, 24, 26, 28], **y_common),
    yaxis2=dict(domain=[0.535, 0.7652], range=[-0.243, 5.455], tickvals=[0, 1, 2, 3, 4, 5], **y_common),
    yaxis3=dict(overlaying="y2", side="right", range=[-0.0194, 0.4364], tickvals=[0, 0.1, 0.2, 0.3, 0.4],
                ticktext=["0", "0.1", "0.2", "0.3", "0.4"], **y_common),
    yaxis4=dict(domain=[0.3047, 0.5192], range=[-2.63, 34.94], tickvals=[0, 10, 20, 30], **y_common),
    yaxis5=dict(domain=[0.0023, 0.2935], range=[-0.823, 8.406], tickvals=[0, 1, 2, 3, 4, 5, 6, 7], **y_common),
)

# y axis lines only across the ticked span
for yref, lo, hi, xp in [("y", 22, 28, 0), ("y2", 0, 5, 0), ("y3", 0, 0.4, 1), ("y4", 0, 30, 0), ("y5", 0, 7, 0)]:
    fig.add_shape(type="line", xref="paper", yref=yref, x0=xp, x1=xp, y0=lo, y1=hi,
                  line=dict(color=axis_col, width=1))

# axis titles
for yref, yv, txt in [("y", 25, "SST (°C)"), ("y2", 2.5, "TOC (%)"),
                      ("y4", 15, "<i>C</i><sub>37</sub>  (µg/g)"), ("y5", 3.5, "δ<sup>15</sup>N (‰ v .air)")]:
    fig.add_annotation(xref="paper", yref=yref, x=-0.1, y=yv, text=txt, showarrow=False, textangle=-90,
                       font=title_font, xanchor="center", yanchor="middle")
fig.add_annotation(xref="paper", yref="y3", x=1.092, y=0.2, text="TN (%)", showarrow=False, textangle=90,
                   font=title_font, xanchor="center", yanchor="middle")
fig.add_annotation(xref="paper", yref="paper", x=0.52, y=1.058, text="Age (Ma)", showarrow=False,
                   font=title_font, xanchor="center", yanchor="middle")
fig.add_annotation(xref="paper", yref="paper", x=0.52, y=-0.054, text="Age (Ma)", showarrow=False,
                   font=title_font, xanchor="center", yanchor="middle")

# panel letters
for yref, yv, letter in [("y", 28, "A"), ("y2", 5, "B"), ("y4", 30, "C"), ("y5", 7.73, "D")]:
    fig.add_annotation(xref="paper", yref=yref, x=0.021, y=yv, text=f"<b>{letter}</b>", showarrow=False,
                       font=bold_font, xanchor="left", yanchor="middle")

# legend
for yp, col, name in [(0.8296, black, "ODP Site 1239"), (0.8014, blue, "ODP Site 1240")]:
    fig.add_shape(type="line", xref="paper", yref="paper", x0=0.726, x1=0.822, y0=yp, y1=yp,
                  line=dict(color=col, width=1.6))
    fig.add_annotation(xref="paper", yref="paper", x=0.85, y=yp, text=f"<b>{name}</b>", showarrow=False,
                       font=bold_font, xanchor="left", yanchor="middle")

fig.write_html("out.html")
